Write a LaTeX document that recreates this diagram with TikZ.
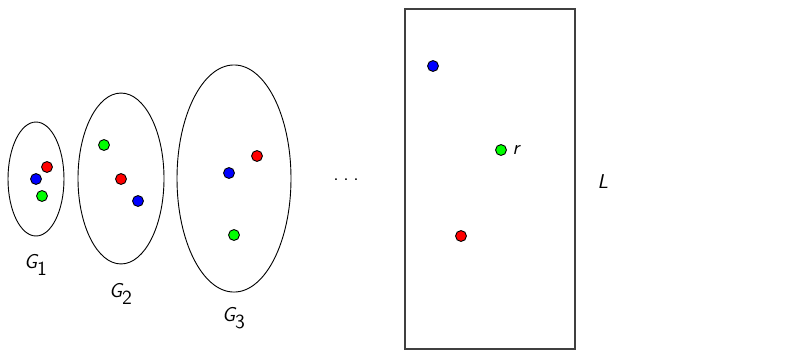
\documentclass[tikz,border=0pt]{standalone}
\usepackage{tikz}
\usetikzlibrary{shapes.geometric,positioning}
\tikzset{
  grp/.style={draw=black,ellipse,line width=0.5pt,inner sep=0pt},
  dot/.style={circle,draw=black,line width=0.5pt,minimum size=6pt,inner sep=0pt},
  rdot/.style={dot,fill=red},
  gdot/.style={dot,fill=green},
  bdot/.style={dot,fill=blue},
  lab/.style={font=\fontsize{11}{13}\selectfont\sffamily\itshape,inner sep=1pt},
}
\newcommand{\glab}[1]{G$_{\textsf{\upshape #1}}$}

\begin{document}
\begin{tikzpicture}[x=0.55pt,y=-0.55pt]
  \useasboundingbox (0,0) rectangle (789,361);
  % groups
  \node[grp,minimum width=30.8pt,minimum height=62.7pt] (g1) at (36,179) {};
  \node[grp,minimum width=47.3pt,minimum height=94pt] (g2) at (121,178.5) {};
  \node[grp,minimum width=62.7pt,minimum height=124.9pt] (g3) at (234,178.5) {};
  \node[rdot] (g1r) at (47,167) {};
  \node[bdot] (g1b) at (36,179) {};
  \node[gdot] (g1g) at (42,196) {};
  \node[gdot] (g2g) at (104,145) {};
  \node[rdot] (g2r) at (121,179) {};
  \node[bdot] (g2b) at (138,201) {};
  \node[rdot] (g3r) at (257,156) {};
  \node[bdot] (g3b) at (229,173) {};
  \node[gdot] (g3g) at (234,235) {};
  \node[lab] (l1) at (36,265) {\glab{1}};
  \node[lab] (l2) at (121,294) {\glab{2}};
  \node[lab] (l3) at (234,318) {\glab{3}};
  \node[lab,font=\fontsize{11}{13}\selectfont\sffamily,anchor=base] (dots) at (346,180) {.\hspace{2.5pt}.\hspace{2.5pt}.};
  % the big set
  \node[draw=black!75,line width=0.6pt,minimum width=93.5pt,minimum height=187pt,inner sep=0pt] (big) at (490,179) {};
  \node[bdot] (lb) at (433,66) {};
  \node[gdot] (lg) at (501,150) {};
  \node[rdot] (lr) at (461,236) {};
  \node[lab,right=2pt of lg] (rl) {r};
  \node[lab] (bl) at (603,182) {L};
\end{tikzpicture}
\end{document}
